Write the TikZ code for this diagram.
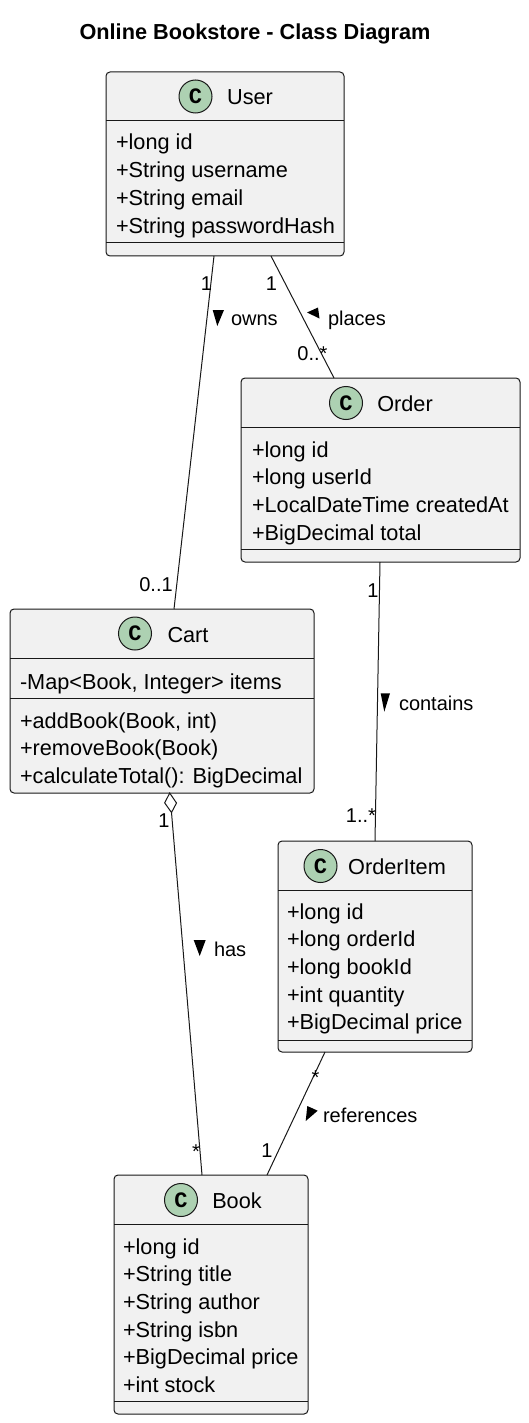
\documentclass[tikz,border=0pt]{standalone}
\usepackage{fontspec}
\setmainfont{Liberation Sans}
\newfontfamily\spotfont{Liberation Mono}
\usetikzlibrary{calc}
\definecolor{boxfill}{HTML}{F1F1F1}
\definecolor{boxline}{HTML}{181818}
\definecolor{cfill}{HTML}{ADD1B2}
\begin{document}
\begin{tikzpicture}[x=1pt,y=-1pt,
  every node/.style={inner sep=0pt, outer sep=0pt},
  classbox/.style={rectangle, draw=boxline, fill=boxfill, line width=1pt, rounded corners=4pt},
  sepline/.style={draw=boxline, line width=1pt},
  cicon/.style={circle, draw=boxline, fill=cfill, line width=1pt, minimum size=33pt, font=\fontsize{22}{22}\selectfont\spotfont\bfseries},
  attr/.style={anchor=base west, font=\fontsize{21.7}{27.7}\selectfont},
  cname/.style={anchor=base, font=\fontsize{21.7}{27.7}\selectfont},
  mult/.style={anchor=base, font=\fontsize{20}{24}\selectfont},
  conn/.style={draw=boxline, line width=1pt},
  dirtri/.style={fill=black, draw=none}
]
\useasboundingbox (0,0) rectangle (529,1423);

% title
\node[anchor=base, font=\fontsize{21.7}{27.7}\selectfont\bfseries] (title) at (255,40) {Online Bookstore - Class Diagram};

% ---------- User ----------
\node[classbox, minimum width=238pt, minimum height=184pt] (user) at (225,164) {};
\draw[sepline] (user.west |- 0,121) -- (user.east |- 0,121);
\draw[sepline] (user.west |- 0,243) -- (user.east |- 0,243);
\node[cicon] (userc) at (195.5,96.5) {C};
\node[cname] (usern) at (250,105) {User};
\foreach \t [count=\i] in {+long id, +String username, +String email, +String passwordHash}
  \node[attr] (ua\i) at (116,{150+27.7*(\i-1)}) {\t};

% ---------- Order ----------
\node[classbox, minimum width=279pt, minimum height=184pt] (order) at (380.5,470) {};
\draw[sepline] (order.west |- 0,427) -- (order.east |- 0,427);
\draw[sepline] (order.west |- 0,549) -- (order.east |- 0,549);
\node[cicon] (orderc) at (346,403) {C};
\node[cname] (ordern) at (405,411) {Order};
\foreach \t [count=\i] in {+long id, +long userId, +LocalDateTime createdAt, +BigDecimal total}
  \node[attr] (oa\i) at (252,{457+27.7*(\i-1)}) {\t};

% ---------- Cart ----------
\node[classbox, minimum width=304pt, minimum height=184pt] (cart) at (162,701) {};
\draw[sepline] (cart.west |- 0,658) -- (cart.east |- 0,658);
\draw[sepline] (cart.west |- 0,698) -- (cart.east |- 0,698);
\node[cicon] (cartc) at (135,633.5) {C};
\node[cname] (cartn) at (188,642) {Cart};
\node[attr] (ca1) at (20,689) {-Map<Book, Integer> items};
\foreach \t [count=\i] in {{+addBook(Book, int)}, +removeBook(Book), +calculateTotal(): BigDecimal}
  \node[attr] (cm\i) at (20,{728+27.7*(\i-1)}) {\t};

% ---------- OrderItem ----------
\node[classbox, minimum width=194pt, minimum height=211pt] (item) at (375,946.5) {};
\draw[sepline] (item.west |- 0,890.5) -- (item.east |- 0,890.5);
\draw[sepline] (item.west |- 0,1040.5) -- (item.east |- 0,1040.5);
\node[cicon] (itemc) at (320.5,866) {C};
\node[cname] (itemn) at (397,874) {OrderItem};
\foreach \t [count=\i] in {+long id, +long orderId, +long bookId, +int quantity, +BigDecimal price}
  \node[attr] (ia\i) at (287,{919+27.7*(\i-1)}) {\t};

% ---------- Book ----------
\node[classbox, minimum width=194pt, minimum height=239pt] (book) at (211,1294.5) {};
\draw[sepline] (book.west |- 0,1224) -- (book.east |- 0,1224);
\draw[sepline] (book.west |- 0,1401) -- (book.east |- 0,1401);
\node[cicon] (bookc) at (181,1200) {C};
\node[cname] (bookn) at (237,1208) {Book};
\foreach \t [count=\i] in {+long id, +String title, +String author, +String isbn, +BigDecimal price, +int stock}
  \node[attr] (ba\i) at (123,{1254+27.7*(\i-1)}) {\t};

% ---------- connectors ----------
% User -- Cart : owns
\draw[conn] ($(user.south west)+(108,0)$) -- ($(cart.north west)+(164,0)$);
\node[mult] (m1) at (206.5,290) {1};
\node[mult] (m2) at (156,591) {0..1};
\fill[dirtri] (212.7,310) -- (224,310) -- (217.3,326) -- cycle;
\node[mult, anchor=base west] (l1) at (231,325) {owns};

% User -- Order : places
\draw[conn] ($(user.south west)+(165,0)$) -- ($(order.north west)+(93,0)$);
\node[mult] (m3) at (271.5,290) {1};
\node[mult] (m4) at (312.5,360) {0..*};
\fill[dirtri] (307,312.5) -- (318,307.5) -- (319.5,318.5) -- cycle;
\node[mult, anchor=base west] (l2) at (328,325) {places};

% Order -- OrderItem : contains
\draw[conn] ($(order.south west)+(139,0)$) -- ($(item.north west)+(97,0)$);
\node[mult] (m5) at (373,597) {1};
\node[mult] (m6) at (361,822) {1..*};
\fill[dirtri] (380.7,693.3) -- (390,693.3) -- (384.3,711.7) -- cycle;
\node[mult, anchor=base west] (l3) at (399,710) {contains};

% Cart o-- Book : has
\draw[conn, fill=white] ($(cart.south west)+(159.7,0)$) -- ++(6.8,10) -- ++(-5,9.5) -- ++(-6.8,-9.6) -- cycle;
\draw[conn] ($(cart.south west)+(161.5,19.5)$) -- ($(book.north west)+(88,0)$);
\node[mult] (m7) at (164,827) {1};
\node[mult] (m8) at (196,1158) {*};
\fill[dirtri] (193.7,940) -- (205.7,940) -- (199.7,956) -- cycle;
\node[mult, anchor=base west] (l4) at (214,956) {has};

% OrderItem -- Book : references
\draw[conn] ($(item.south west)+(47,0)$) -- ($(book.north west)+(153,0)$);
\node[mult] (m9) at (315.5,1084) {*};
\node[mult] (m10) at (267,1157) {1};
\fill[dirtri] (307.3,1106) -- (317.7,1110.7) -- (305.7,1121) -- cycle;
\node[mult, anchor=base west] (l5) at (323,1122) {references};
\end{tikzpicture}
\end{document}
